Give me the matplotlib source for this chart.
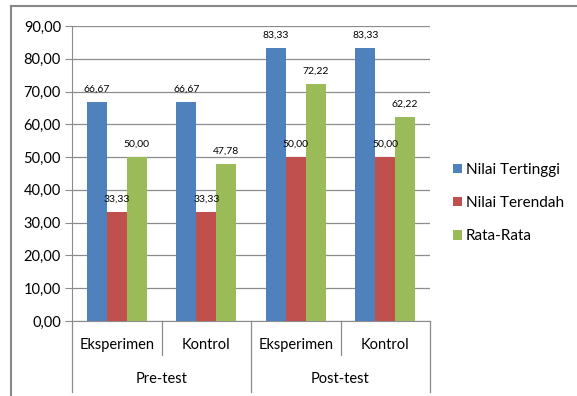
import matplotlib
matplotlib.use("Agg")
import matplotlib.pyplot as plt
from matplotlib.lines import Line2D
import numpy as np

plt.rcParams['font.family'] = ['Lato', 'DejaVu Sans']

categories = ['Eksperimen', 'Kontrol', 'Eksperimen', 'Kontrol']
groups = ['Pre-test', 'Post-test']
series = ['Nilai Tertinggi', 'Nilai Terendah', 'Rata-Rata']
tertinggi = [66.67, 66.67, 83.33, 83.33]
terendah = [33.33, 33.33, 50.00, 50.00]
rata = [50.00, 47.78, 72.22, 62.22]
colors = ['#4F81BD', '#C0504D', '#9BBB59']

W, H = 577, 396
fig = plt.figure(figsize=(W / 100, H / 100), dpi=100)
ax = fig.add_axes([72 / W, (H - 321) / H, (430 - 72) / W, (321 - 26) / H])

x = np.arange(len(categories))
width = 0.222
for i, (vals, col, name) in enumerate(zip([tertinggi, terendah, rata], colors, series)):
    pos = x + (i - 1) * width
    ax.bar(pos, vals, width, color=col, label=name, zorder=3)
    for px, v in zip(pos, vals):
        ax.annotate('{:.2f}'.format(v).replace('.', ','), (px, v),
                    xytext=(0, 6), textcoords='offset points',
                    ha='center', va='bottom', fontsize=7.5, zorder=4)

ax.set_xlim(-0.5, 3.5)
ax.set_ylim(0, 90)
ax.set_yticks(np.arange(0, 91, 10))
ax.set_yticklabels(['{:.2f}'.format(t).replace('.', ',') for t in np.arange(0, 91, 10)],
                   fontsize=10.5)
ax.yaxis.grid(True, color='#8c8c8c', linewidth=0.9, zorder=0)
ax.tick_params(axis='y', length=5, color='#8c8c8c', pad=3)
ax.set_xticks([])
for s in ['top', 'right']:
    ax.spines[s].set_visible(False)
ax.spines['left'].set_color('#8c8c8c')
ax.spines['bottom'].set_color('#8c8c8c')

# category axis separators and labels
tr = ax.get_xaxis_transform()
for xs in [0.5, 2.5]:
    ax.plot([xs, xs], [0, -0.115], transform=tr, color='#8c8c8c', lw=0.9, clip_on=False)
for xs in [-0.5, 1.5, 3.5]:
    ax.plot([xs, xs], [0, -0.241], transform=tr, color='#8c8c8c', lw=0.9, clip_on=False)
for xi, c in zip(x, categories):
    ax.text(xi, -0.08, c, transform=tr, ha='center', va='center', fontsize=10.5)
for gi, g in enumerate(groups):
    ax.text(gi * 2 + 0.5, -0.195, g, transform=tr, ha='center', va='center', fontsize=10.5)

# outer frame
fig.add_artist(Line2D([11 / W, 11 / W], [0, 1 - 6 / H], color='#888888', lw=1.5))
fig.add_artist(Line2D([11 / W, 1], [1 - 6 / H, 1 - 6 / H], color='#888888', lw=1.5))

ax.legend(loc='center left', bbox_to_anchor=(453 / W, 1 - 203 / H),
          bbox_transform=fig.transFigure, frameon=False, fontsize=11,
          handlelength=0.6, handleheight=0.6, handletextpad=0.25,
          labelspacing=1.25, borderpad=0, borderaxespad=0)

fig.savefig('out.png', dpi=100)
